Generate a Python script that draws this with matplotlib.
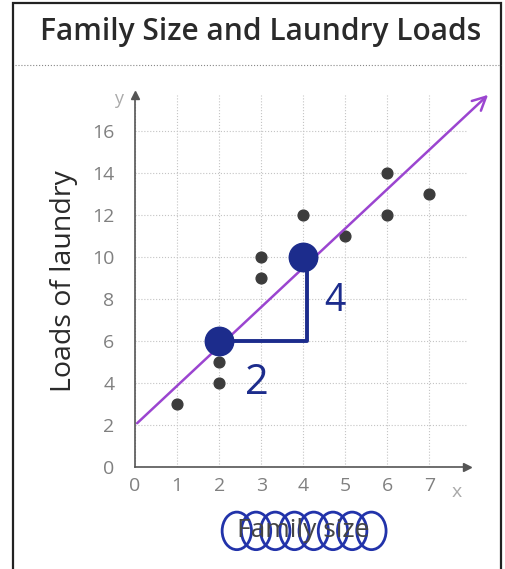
import numpy as np
import matplotlib
matplotlib.use('Agg')
from matplotlib import pyplot as plt
from matplotlib.patches import Ellipse, Rectangle
from matplotlib.lines import Line2D

# data
family = [1, 2, 2, 2, 3, 3, 4, 4, 5, 6, 6, 7]
loads = [3, 4, 5, 6, 9, 10, 10, 12, 11, 12, 14, 13]
x_ticks = [0, 1, 2, 3, 4, 5, 6, 7]
y_ticks = [0, 2, 4, 6, 8, 10, 12, 14, 16]
fit_x = [0, 8.45]
fit_y = [2, 17.8]
picked_x = [2, 4]
picked_y = [6, 10]

def main():
	plt.rcParams['font.family'] = ['Open Sans', 'DejaVu Sans']
	fig = plt.figure(figsize=(5.06, 5.69), dpi=100)
	fig.patch.set_facecolor('white')

	# outer frame and title band
	fig.patches.append(Rectangle((0.025, -0.01), 0.966, 1.005, transform=fig.transFigure,
		fill=False, edgecolor='#222222', lw=1.6))
	fig.lines.append(Line2D([0.03, 0.99], [0.885, 0.885], transform=fig.transFigure,
		color='#888888', lw=0.8, ls=':'))
	fig.text(0.515, 0.944, 'Family Size and Laundry Loads', ha='center', va='center',
		fontsize=21.5, color='#2a2a2a', fontweight='semibold')

	ax = fig.add_axes([0.267, 0.179, 0.656, 0.654])
	ax.set_xlim(0, 7.9)
	ax.set_ylim(0, 17.7)
	for s in ['top', 'right']:
		ax.spines[s].set_visible(False)
	for s in ['left', 'bottom']:
		ax.spines[s].set_color('#555555')
		ax.spines[s].set_linewidth(1.2)
	ax.plot(1, 0, '>', color='#555555', ms=6, transform=ax.transAxes, clip_on=False)
	ax.plot(0, 1, '^', color='#555555', ms=6, transform=ax.transAxes, clip_on=False)

	ax.set_xticks(x_ticks)
	ax.set_yticks(y_ticks)
	ax.tick_params(length=0, labelsize=14, labelcolor='#808080')
	ax.tick_params(axis='y', pad=15)
	ax.tick_params(axis='x', pad=7)
	ax.grid(True, color='#c4c4c4', ls=':', lw=0.8)
	ax.text(7.65, -0.75, 'x', ha='center', va='top', fontsize=14, color='#aaaaaa', clip_on=False)
	ax.text(-0.4, 17.5, 'y', ha='center', va='center', fontsize=13, color='#aaaaaa', clip_on=False)

	ax.set_ylabel('Loads of laundry', fontsize=20.5, color='#2a2a2a', labelpad=10)

	# scatter points
	ax.scatter(family, loads, s=60, color='#3c3c3c', zorder=3, clip_on=False)

	# hand-drawn line of fit with arrow
	ax.annotate('', xy=(fit_x[1], fit_y[1]), xytext=(fit_x[0], fit_y[0]),
		arrowprops=dict(arrowstyle='->', color='#9b45d0', lw=1.8, mutation_scale=24),
		annotation_clip=False, zorder=4)

	# slope triangle
	blue = '#1c2c8c'
	ax.plot([picked_x[0], picked_x[1] + 0.1, picked_x[1] + 0.1],
		[picked_y[0], picked_y[0], picked_y[1]], color=blue, lw=2.8, zorder=4)
	ax.scatter(picked_x, picked_y, s=420, color=blue, zorder=5)
	ax.text(2.9, 4.0, '2', fontsize=30, color=blue, ha='center', va='center')
	ax.text(4.75, 7.9, '4', fontsize=27, color=blue, ha='center', va='center')

	# x label with scribbled loops
	fig.text(0.6, 0.067, 'Family size', ha='center', va='center', fontsize=19, color='#444444')
	for i in range(8):
		cx = 0.468 + i * 0.038
		fig.patches.append(Ellipse((cx, 0.067), 0.058, 0.066, transform=fig.transFigure,
			fill=False, edgecolor='#2233aa', lw=2))

	fig.savefig('out.png', dpi=100)
	return 0

if __name__ == '__main__':
	main()
